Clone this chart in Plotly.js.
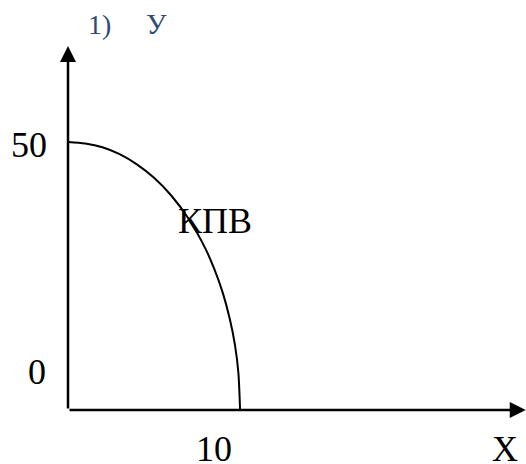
<!DOCTYPE html>
<html>
<head>
<meta charset="utf-8">
<script src="https://cdn.plot.ly/plotly-3.0.1.min.js"></script>
<style>html,body{margin:0;padding:0;background:#fff;}#chart{width:526px;height:464px;}</style>
</head>
<body>
<div id="chart"></div>
<script>
// PPF (КПВ) points: X goods vs Y goods
const ppfX = [0, 1, 2, 3, 4, 5, 6, 7, 8, 8.5, 9, 9.4, 9.7, 9.9, 10];
const ppfY = [50, 49.7, 49.0, 47.7, 45.8, 43.3, 40.0, 35.7, 30.0, 26.3, 21.8, 17.0, 12.2, 7.0, 0];

// Labels
const yTickLabels = ["50", "0"];
const xTickLabels = ["10"];
const xAxisLabel = "X";
const yAxisLabel = "У";
const panelLabel = "1)";
const curveLabel = "КПВ";

const serif = "Liberation Serif, Times New Roman, serif";
const black = "#000000";
const blue = "#2F4B75";

// pixel helpers for label placement (plot area: left 68, right 524, top 40, bottom 410)
const L = 68, W = 456, B = 410, H = 370;
const px = v => (v - L) / W;
const py = v => (B - v) / H;

const annotations = [];
// Axis arrows
annotations.push({x: 0, y: 67.9, ax: 0, ay: 0, xref: "x", yref: "y", axref: "x", ayref: "y",
  showarrow: true, arrowhead: 2, arrowsize: 1.28, arrowwidth: 2.5, arrowcolor: black, text: "", standoff: 0});
annotations.push({x: 26.6, y: 0, ax: 0, ay: 0, xref: "x", yref: "y", axref: "x", ayref: "y",
  showarrow: true, arrowhead: 2, arrowsize: 1.28, arrowwidth: 2.5, arrowcolor: black, text: "", standoff: 0});

function label(text, x, y, size, color) {
  annotations.push({x: px(x), y: py(y), xref: "paper", yref: "paper", xanchor: "center", yanchor: "middle",
    text: text, showarrow: false, font: {family: serif, size: size, color: color}});
}
const yLabelPos = [[29, 145], [37, 372]];
yTickLabels.forEach((t, i) => label(t, yLabelPos[i][0], yLabelPos[i][1], 36, black));
xTickLabels.forEach(t => label(t, 214, 449, 36, black));
label(xAxisLabel, 505, 449, 36, black);
label(curveLabel, 215, 221, 36, black);
label(panelLabel, 99, 25, 28, blue);
label(yAxisLabel, 156, 24, 29, blue);

const traces = [{
  x: ppfX, y: ppfY, type: "scatter", mode: "lines",
  line: {color: black, width: 2, shape: "spline", smoothing: 0.8},
  hoverinfo: "skip", cliponaxis: false
}];

const axisCommon = {showgrid: false, zeroline: false, showline: false, showticklabels: false, ticks: "", fixedrange: true};

const layout = {
  width: 526, height: 464,
  margin: {l: 68, r: 2, t: 40, b: 54},
  paper_bgcolor: "#ffffff", plot_bgcolor: "#ffffff",
  showlegend: false,
  xaxis: Object.assign({range: [0, 26.5]}, axisCommon),
  yaxis: Object.assign({range: [0, 69]}, axisCommon),
  annotations: annotations
};

Plotly.newPlot("chart", traces, layout, {displayModeBar: false, staticPlot: true});
</script>
</body>
</html>
